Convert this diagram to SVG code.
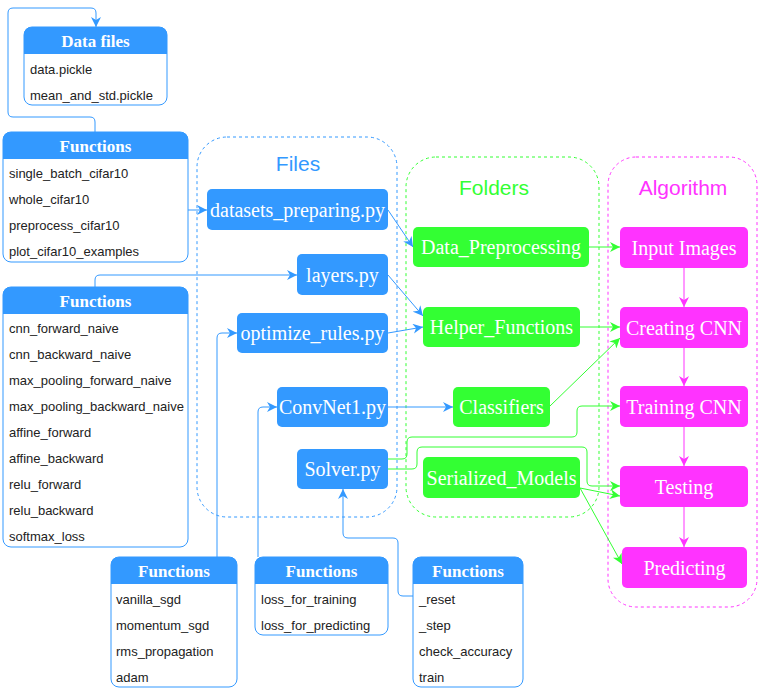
<svg xmlns="http://www.w3.org/2000/svg" width="758" height="691" viewBox="0 0 758 691">
<style>
.cont{fill:none;stroke-width:1;stroke-dasharray:3 3}
.ttl{font-family:"Liberation Sans",Arial,sans-serif;font-size:21px;text-anchor:middle}
.nb{fill:#3399FF}
.ng{fill:#33FF33}
.nm{fill:#FF33FF}
.nt{font-family:"Liberation Serif","Times New Roman",serif;font-size:20px;fill:#fff;text-anchor:middle}
.lbody{fill:#fff;stroke:#3399FF;stroke-width:1}
.lhead{fill:#3399FF}
.lht{font-family:"Liberation Serif","Times New Roman",serif;font-size:17px;font-weight:bold;fill:#fff;text-anchor:middle}
.row{font-family:"Liberation Sans",Arial,sans-serif;font-size:13px;fill:#222}
.cb{fill:none;stroke:#3399FF;stroke-width:1}
.cg{fill:none;stroke:#33FF33;stroke-width:1}
.cm{fill:none;stroke:#FF33FF;stroke-width:1}
</style>
<defs>
<marker id="ab" viewBox="0 0 10 10" refX="10" refY="5" markerWidth="10" markerHeight="10" markerUnits="userSpaceOnUse" orient="auto"><path d="M0,0 L10,5 L0,10 L3,5 Z" fill="#3399FF"/></marker>
<marker id="ag" viewBox="0 0 10 10" refX="10" refY="5" markerWidth="10" markerHeight="10" markerUnits="userSpaceOnUse" orient="auto"><path d="M0,0 L10,5 L0,10 L3,5 Z" fill="#33FF33"/></marker>
<marker id="am" viewBox="0 0 10 10" refX="10" refY="5" markerWidth="10" markerHeight="10" markerUnits="userSpaceOnUse" orient="auto"><path d="M0,0 L10,5 L0,10 L3,5 Z" fill="#FF33FF"/></marker>
</defs>
<rect width="758" height="691" fill="#fff"/>

<g id="containers">
<g id="files-container"><rect class="cont" x="197" y="137" width="200" height="380" rx="30" stroke="#3399FF"/><text class="ttl" x="298" y="171" fill="#3399FF">Files</text></g>
<g id="folders-container"><rect class="cont" x="406" y="157" width="193" height="360" rx="30" stroke="#33FF33"/><text class="ttl" x="494" y="195" fill="#33FF33">Folders</text></g>
<g id="algorithm-container"><rect class="cont" x="608" y="157" width="149" height="450" rx="28" stroke="#FF33FF"/><text class="ttl" x="683" y="195" fill="#FF33FF">Algorithm</text></g>
</g>

<g id="connectors">
<path class="cb" d="M95,132 V122 Q95,117 90,117 H13 Q8,117 8,112 V13 Q8,8 13,8 H91 Q96,8 96,13 V27" marker-end="url(#ab)"/>
<path class="cb" d="M188,210 H207" marker-end="url(#ab)"/>
<path class="cb" d="M95,287 V280 Q95,275 100,275 H297" marker-end="url(#ab)"/>
<path class="cb" d="M217,557 V338 Q217,333 222,333 H237" marker-end="url(#ab)"/>
<path class="cb" d="M258,557 V412 Q258,407 263,407 H277" marker-end="url(#ab)"/>
<path class="cb" d="M413,596 H403 Q398,596 398,591 V543 Q398,538 393,538 H348 Q343,538 343,533 V489" marker-end="url(#ab)"/>
<path class="cb" d="M388,210 L413,247" marker-end="url(#ab)"/>
<path class="cb" d="M388,275 L423,316" marker-end="url(#ab)"/>
<path class="cb" d="M388,333 L423,327" marker-end="url(#ab)"/>
<path class="cb" d="M388,407 H453" marker-end="url(#ab)"/>
<path class="cg" d="M388,459 H402 Q407,459 407,454 V442 Q407,437 412,437 H572 Q577,437 577,432 V411 Q577,406 582,406 H620" marker-end="url(#ag)"/>
<path class="cg" d="M388,469 H412 Q417,469 417,464 V452 Q417,447 422,447 H582 Q587,447 587,452 V481 Q587,486 592,486 H620" marker-end="url(#ag)"/>
<path class="cg" d="M580,488 L620,496" marker-end="url(#ag)"/>
<path class="cg" d="M580,488 L622,564" marker-end="url(#ag)"/>
<path class="cg" d="M589,247 H620" marker-end="url(#ag)"/>
<path class="cg" d="M580,327 H620" marker-end="url(#ag)"/>
<path class="cg" d="M550,406 L620,338" marker-end="url(#ag)"/>
<path class="cm" d="M684,268 V307" marker-end="url(#am)"/>
<path class="cm" d="M684,348 V386" marker-end="url(#am)"/>
<path class="cm" d="M684,427 V466" marker-end="url(#am)"/>
<path class="cm" d="M684,507 V547" marker-end="url(#am)"/>
</g>

<g id="data-files">
<rect class="lbody" x="24" y="27" width="143" height="78" rx="8"/>
<path class="lhead" d="M24,54 V35 Q24,27 32,27 H159 Q167,27 167,35 V54 Z"/>
<text class="lht" x="95.5" y="47">Data files</text>
<text class="row" x="30" y="74">data.pickle</text>
<text class="row" x="30" y="100">mean_and_std.pickle</text>
</g>

<g id="functions-1">
<rect class="lbody" x="3" y="132" width="185" height="130" rx="8"/>
<path class="lhead" d="M3,159 V140 Q3,132 11,132 H180 Q188,132 188,140 V159 Z"/>
<text class="lht" x="95.5" y="152">Functions</text>
<text class="row" x="9" y="178">single_batch_cifar10</text>
<text class="row" x="9" y="204">whole_cifar10</text>
<text class="row" x="9" y="230">preprocess_cifar10</text>
<text class="row" x="9" y="256">plot_cifar10_examples</text>
</g>

<g id="functions-2">
<rect class="lbody" x="3" y="287" width="185" height="260" rx="8"/>
<path class="lhead" d="M3,314 V295 Q3,287 11,287 H180 Q188,287 188,295 V314 Z"/>
<text class="lht" x="95.5" y="307">Functions</text>
<text class="row" x="9" y="333">cnn_forward_naive</text>
<text class="row" x="9" y="359">cnn_backward_naive</text>
<text class="row" x="9" y="385">max_pooling_forward_naive</text>
<text class="row" x="9" y="411">max_pooling_backward_naive</text>
<text class="row" x="9" y="437">affine_forward</text>
<text class="row" x="9" y="463">affine_backward</text>
<text class="row" x="9" y="489">relu_forward</text>
<text class="row" x="9" y="515">relu_backward</text>
<text class="row" x="9" y="541">softmax_loss</text>
</g>

<g id="functions-optim">
<rect class="lbody" x="111" y="557" width="126" height="130" rx="8"/>
<path class="lhead" d="M111,584 V565 Q111,557 119,557 H229 Q237,557 237,565 V584 Z"/>
<text class="lht" x="174" y="577">Functions</text>
<text class="row" x="116" y="604">vanilla_sgd</text>
<text class="row" x="116" y="630">momentum_sgd</text>
<text class="row" x="116" y="656">rms_propagation</text>
<text class="row" x="116" y="682">adam</text>
</g>

<g id="functions-loss">
<rect class="lbody" x="255" y="557" width="133" height="78" rx="8"/>
<path class="lhead" d="M255,584 V565 Q255,557 263,557 H380 Q388,557 388,565 V584 Z"/>
<text class="lht" x="321.5" y="577">Functions</text>
<text class="row" x="261" y="604">loss_for_training</text>
<text class="row" x="261" y="630">loss_for_predicting</text>
</g>

<g id="functions-solver">
<rect class="lbody" x="413" y="557" width="110" height="130" rx="8"/>
<path class="lhead" d="M413,584 V565 Q413,557 421,557 H515 Q523,557 523,565 V584 Z"/>
<text class="lht" x="468" y="577">Functions</text>
<text class="row" x="419" y="604">_reset</text>
<text class="row" x="419" y="630">_step</text>
<text class="row" x="419" y="656">check_accuracy</text>
<text class="row" x="419" y="682">train</text>
</g>

<g id="datasets-preparing"><rect class="nb" x="207" y="189" width="181" height="41" rx="5"/><text class="nt" x="297.5" y="216.5">datasets_preparing.py</text></g>
<g id="layers"><rect class="nb" x="297" y="254" width="91" height="41" rx="5"/><text class="nt" x="342.5" y="281.5">layers.py</text></g>
<g id="optimize-rules"><rect class="nb" x="237" y="313" width="151" height="40" rx="5"/><text class="nt" x="312.5" y="339.5">optimize_rules.py</text></g>
<g id="convnet1"><rect class="nb" x="277" y="387" width="111" height="40" rx="5"/><text class="nt" x="332.5" y="413.5">ConvNet1.py</text></g>
<g id="solver"><rect class="nb" x="297" y="449" width="91" height="40" rx="5"/><text class="nt" x="342.5" y="475.5">Solver.py</text></g>

<g id="data-preprocessing"><rect class="ng" x="413" y="227" width="176" height="40" rx="5"/><text class="nt" x="501" y="253.5">Data_Preprocessing</text></g>
<g id="helper-functions"><rect class="ng" x="423" y="307" width="157" height="40" rx="5"/><text class="nt" x="501.5" y="333.5">Helper_Functions</text></g>
<g id="classifiers"><rect class="ng" x="453" y="387" width="97" height="40" rx="5"/><text class="nt" x="501.5" y="413.5">Classifiers</text></g>
<g id="serialized-models"><rect class="ng" x="423" y="457" width="157" height="41" rx="5"/><text class="nt" x="501.5" y="484.5">Serialized_Models</text></g>

<g id="input-images"><rect class="nm" x="620" y="227" width="128" height="41" rx="5"/><text class="nt" x="684" y="254.5">Input Images</text></g>
<g id="creating-cnn"><rect class="nm" x="620" y="307" width="128" height="41" rx="5"/><text class="nt" x="684" y="334.5">Creating CNN</text></g>
<g id="training-cnn"><rect class="nm" x="620" y="386" width="128" height="41" rx="5"/><text class="nt" x="684" y="413.5">Training CNN</text></g>
<g id="testing"><rect class="nm" x="620" y="466" width="128" height="41" rx="5"/><text class="nt" x="684" y="493.5">Testing</text></g>
<g id="predicting"><rect class="nm" x="622" y="547" width="125" height="41" rx="5"/><text class="nt" x="684.5" y="574.5">Predicting</text></g>
</svg>
